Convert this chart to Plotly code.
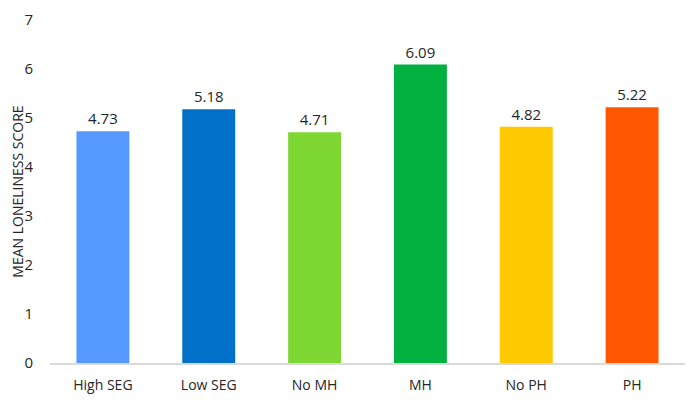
import plotly.graph_objects as go

groups = ["High SEG", "Low SEG", "No MH", "MH", "No PH", "PH"]
mean_scores = [4.73, 5.18, 4.71, 6.09, 4.82, 5.22]
bar_colors = ["#5599FF", "#0070C8", "#7ED632", "#00B140", "#FFC900", "#FF5800"]
y_ticks = [0, 1, 2, 3, 4, 5, 6, 7]

fig = go.Figure(go.Bar(
    x=groups,
    y=mean_scores,
    marker=dict(color=bar_colors, line=dict(width=0)),
    text=[f"{v:.2f}" for v in mean_scores],
    textposition="outside",
    textfont=dict(size=15, color="#262626"),
    cliponaxis=False,
))

# page has an 8px body margin, so margins are offset to line up with the reference
fig.update_layout(
    width=695, height=400,
    margin=dict(l=42, r=18, t=12, b=45),
    paper_bgcolor="white", plot_bgcolor="white",
    font=dict(family="Open Sans", size=14, color="#262626"),
    bargap=0.5,
    showlegend=False,
)
fig.update_xaxes(
    showline=True, linecolor="#D9D9D9", linewidth=1.5,
    showgrid=False, ticks="", tickfont=dict(size=14),
    ticklabelstandoff=8,
)
fig.update_yaxes(
    range=[0, 7], tickvals=y_ticks, showgrid=False, zeroline=False,
    showline=False, ticks="", tickfont=dict(size=15),
    ticklabelstandoff=16, ticklabeloverflow="allow", automargin=False,
    title=dict(text="MEAN LONELINESS SCORE", font=dict(size=14), standoff=0),
)

fig.write_html("out.html")
